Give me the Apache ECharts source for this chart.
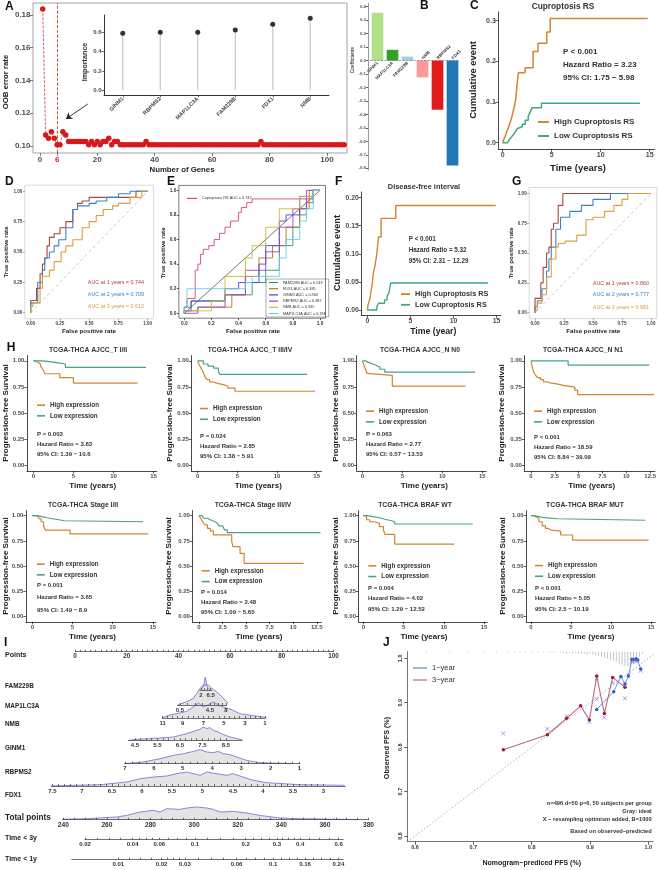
<!DOCTYPE html>
<html>
<head>
<meta charset="utf-8">
<title>Cuproptosis RS figure</title>
<script src="https://cdn.jsdelivr.net/npm/echarts@6.0.0/dist/echarts.min.js"></script>
<style>
html, body { margin: 0; padding: 0; background: #fff; }
#chart { width: 659px; height: 870px; }
</style>
</head>
<body>
<div id="chart"></div>
<script>
// ---------- A: OOB error by number of genes ----------
const oobErr = [
  0.1837, 0.1067, 0.1047, 0.1087, 0.1047, 0.1007, 0.1007, 0.1087, 0.1067, 0.1027,
  0.1027, 0.1027, 0.1027, 0.1027, 0.1027, 0.1027, 0.1007, 0.1027, 0.1007, 0.1027,
  0.1007, 0.1027, 0.1027, 0.1047, 0.1007, 0.1027, 0.1027, 0.1007, 0.1007, 0.1007,
  0.1007, 0.1007, 0.1007, 0.1007, 0.1007, 0.1007, 0.1027, 0.1007, 0.1007, 0.1007,
  0.1007, 0.1007, 0.1007, 0.1007, 0.1007, 0.1007, 0.1007, 0.1007, 0.1007, 0.1007,
  0.1007, 0.1007, 0.1007, 0.1007, 0.1007, 0.1007, 0.1007, 0.1007, 0.1007, 0.1007,
  0.1007, 0.1007, 0.1007, 0.1007, 0.1007, 0.1007, 0.1007, 0.1007, 0.1007, 0.1007,
  0.1007, 0.1007, 0.1007, 0.1007, 0.1007, 0.1007, 0.1027, 0.1007, 0.1007, 0.1007,
  0.1007, 0.1007, 0.1007, 0.1007, 0.1007, 0.1007, 0.1007, 0.1007, 0.1007, 0.1007,
  0.1007, 0.1007, 0.1007, 0.1007, 0.1007, 0.1007, 0.1007, 0.1007, 0.1007, 0.1007,
  0.1007, 0.1007, 0.1007, 0.1007, 0.1007, 0.1007
];
const oobTicks = [0, 6, 20, 40, 60, 80, 100];
const impGenes = ['GINM1', 'RBPMS2', 'MAP1LC3A', 'FAM229B', 'FDX1', 'NMB'];
const impVals = [0.59, 0.60, 0.60, 0.624, 0.684, 0.746];
const arrowFrom = [16.7, 0.1256];
const arrowTo = [9.07, 0.1165];

// ---------- B: coefficients ----------
const coefGenes = ['GINM1', 'MAP1LC3A', 'FAM229B', 'NMB', 'RBPMS2', 'FDX1'];
const coefVals = [0.355, 0.08, 0.03, -0.125, -0.365, -0.78];
const coefColors = ['#b2df8a', '#33a02c', '#a6cee3', '#fb9a99', '#e31a1c', '#1f78b4'];

// ---------- C / F: cumulative event ----------
const cHigh = [[0, 0], [0.1, 0.008], [0.25, 0.015], [0.4, 0.027], [0.55, 0.035], [0.7, 0.046], [0.9, 0.06],
  [1.05, 0.075], [1.2, 0.09], [1.35, 0.11], [1.45, 0.14], [1.6, 0.172], [2.28, 0.184], [3.1, 0.224],
  [3.6, 0.244], [4.5, 0.272], [4.85, 0.305], [14.8, 0.305]];
const cLow = [[0, 0], [0.5, 0.003], [0.7, 0.008], [0.9, 0.014], [1.1, 0.02], [1.3, 0.027], [1.5, 0.035],
  [1.7, 0.039], [2.0, 0.045], [2.3, 0.055], [2.6, 0.065], [2.8, 0.075], [3.0, 0.086], [3.95, 0.097], [14.0, 0.097]];
const cStats = ['P < 0.001', 'Hazard Ratio = 3.23', '95% CI: 1.75 \u2212 5.98'];
const fHigh = [[0, 0], [0.1, 0.01], [0.3, 0.02], [0.5, 0.04], [0.6, 0.05], [0.7, 0.065], [0.9, 0.08],
  [1.1, 0.1], [1.3, 0.13], [1.6, 0.163], [3.3, 0.186], [14.9, 0.186]];
const fLow = [[0, 0], [1.1, 0.006], [1.3, 0.012], [2.0, 0.018], [2.3, 0.025], [2.5, 0.03], [2.7, 0.048], [14.0, 0.048]];
const fStats = ['P < 0.001', 'Hazard Ratio = 5.32', '95% CI: 2.31 \u2212 12.29'];
const cufNames = ['High Cuproptosis RS', 'Low Cuproptosis RS'];

// ---------- D / G: time-dependent ROC ----------
const dRoc1 = [[0, 0], [0, 0.08], [0.05, 0.1], [0.08, 0.2], [0.1, 0.32], [0.12, 0.4], [0.14, 0.45], [0.16, 0.55],
  [0.2, 0.62], [0.25, 0.65], [0.3, 0.7], [0.36, 0.75], [0.4, 0.85], [0.44, 0.9], [0.5, 0.92], [0.55, 0.95], [0.9, 0.95], [0.95, 1], [1, 1]];
const dRoc2 = [[0, 0], [0, 0.05], [0.06, 0.08], [0.1, 0.25], [0.12, 0.35], [0.16, 0.45], [0.2, 0.5], [0.24, 0.55],
  [0.3, 0.6], [0.36, 0.7], [0.4, 0.85], [0.5, 0.88], [0.56, 0.9], [0.65, 0.92], [0.75, 0.95], [0.85, 0.98], [0.95, 1], [1, 1]];
const dRoc3 = [[0, 0], [0.02, 0.05], [0.08, 0.08], [0.1, 0.2], [0.16, 0.3], [0.2, 0.35], [0.26, 0.42], [0.3, 0.5],
  [0.36, 0.55], [0.44, 0.6], [0.5, 0.7], [0.56, 0.75], [0.62, 0.8], [0.7, 0.85], [0.75, 0.88], [0.85, 0.9], [0.95, 0.95], [1, 1]];
const dAuc = ['AUC at 1 years = 0.744', 'AUC at 2 years = 0.709', 'AUC at 3 years = 0.612'];
const gRoc1 = [[0, 0], [0, 0.12], [0.05, 0.12], [0.07, 0.25], [0.1, 0.38], [0.12, 0.5], [0.14, 0.55], [0.16, 0.7],
  [0.2, 0.75], [0.24, 0.9], [0.3, 1.0], [1, 1]];
const gRoc2 = [[0, 0], [0.02, 0.05], [0.06, 0.1], [0.1, 0.2], [0.12, 0.35], [0.14, 0.45], [0.18, 0.55], [0.22, 0.7],
  [0.3, 0.8], [0.4, 0.85], [0.5, 0.9], [0.65, 0.95], [0.72, 1.0], [1, 1]];
const gRoc3 = [[0, 0], [0.02, 0.02], [0.06, 0.08], [0.1, 0.15], [0.14, 0.3], [0.18, 0.45], [0.2, 0.55], [0.26, 0.58],
  [0.36, 0.6], [0.44, 0.65], [0.5, 0.78], [0.6, 0.8], [0.68, 0.85], [0.75, 0.9], [0.8, 0.95], [0.86, 1.0], [1, 1]];
const gAuc = ['AUC at 1 years = 0.860', 'AUC at 2 years = 0.777', 'AUC at 3 years = 0.681'];
const rocTicks = [0, 0.25, 0.5, 0.75, 1];

// ---------- E: ROC per gene ----------
const eNames = ['Cuproptosis RS AUC = 0.742', 'FAM229B AUC = 0.533', 'FDX1 AUC = 0.385', 'GINM1 AUC = 0.363',
  'RBPMS2 AUC = 0.387', 'NMB AUC = 0.335', 'MAP1LC3A AUC = 0.338'];
const eColors = ['#d24a6e', '#3a8f68', '#b77616', '#4b3fd8', '#9b3ed0', '#c9bb2e', '#5fd3e6'];
const eRS = [[0, 0], [0.02, 0.05], [0.02, 0.1], [0.08, 0.12], [0.08, 0.25], [0.1, 0.35], [0.12, 0.4], [0.14, 0.48],
  [0.18, 0.52], [0.22, 0.55], [0.26, 0.6], [0.3, 0.65], [0.34, 0.7], [0.4, 0.75], [0.42, 0.82], [0.46, 0.86],
  [0.5, 0.9], [0.54, 0.93], [0.95, 0.93], [1, 1]];
const eFAM = [[0, 0], [0.05, 0.05], [0.3, 0.1], [0.5, 0.15], [0.6, 0.25], [0.7, 0.35], [0.8, 0.55], [0.85, 0.7], [0.9, 0.8], [0.95, 0.9], [1, 1]];
const eFDX = [[0, 0], [0.1, 0.02], [0.35, 0.05], [0.45, 0.15], [0.55, 0.3], [0.65, 0.45], [0.75, 0.55], [0.85, 0.7], [0.92, 0.85], [1, 1]];
const eGIN = [[0, 0], [0.05, 0.02], [0.3, 0.1], [0.4, 0.2], [0.55, 0.25], [0.6, 0.4], [0.7, 0.55], [0.75, 0.75], [0.85, 0.8], [0.95, 0.95], [1, 1]];
const eRBP = [[0, 0], [0.1, 0], [0.3, 0.05], [0.45, 0.15], [0.6, 0.35], [0.7, 0.5], [0.8, 0.7], [0.9, 0.85], [1, 1]];
const eNMB = [[0, 0], [0.2, 0.02], [0.3, 0.1], [0.45, 0.3], [0.5, 0.45], [0.6, 0.55], [0.7, 0.7], [0.85, 0.85], [0.95, 0.95], [1, 1]];
const eMAP = [[0, 0], [0.02, 0.05], [0.2, 0.2], [0.45, 0.2], [0.5, 0.25], [0.7, 0.3], [0.75, 0.45], [0.85, 0.6], [0.9, 0.75], [0.95, 0.85], [1, 1]];
const eTicks = [0, 0.2, 0.4, 0.6, 0.8, 1];

// ---------- H: progression-free survival ----------
const hTitles = ['TCGA-THCA AJCC_T I/II', 'TCGA-THCA AJCC_T III/IV', 'TCGA-THCA AJCC_N N0', 'TCGA-THCA AJCC_N N1',
  'TCGA-THCA Stage I/II', 'TCGA-THCA Stage III/IV', 'TCGA-THCA BRAF WT', 'TCGA-THCA BRAF MUT'];
const hStats = [
  ['P = 0.003', 'Hazard Ratio = 3.83', '95% CI: 1.39 \u2212 10.6'],
  ['P = 0.024', 'Hazard Ratio = 2.85', '95% CI: 1.38 \u2212 5.91'],
  ['P = 0.063', 'Hazard Ratio = 2.77', '95% CI: 0.57 \u2212 13.53'],
  ['P < 0.001', 'Hazard Ratio = 18.59', '95% CI: 8.84 \u2212 39.09'],
  ['P = 0.001', 'Hazard Ratio = 3.65', '95% CI: 1.49 \u2212 8.9'],
  ['P = 0.014', 'Hazard Ratio = 2.48', '95% CI: 1.09 \u2212 5.65'],
  ['P = 0.004', 'Hazard Ratio = 4.02', '95% CI: 1.29 \u2212 12.52'],
  ['P < 0.001', 'Hazard Ratio = 5.05', '95% CI: 2.5 \u2212 10.19']
];
const hHigh = [
  [[0, 1], [0.3, 0.985], [0.6, 0.97], [0.9, 0.95], [1.1, 0.93], [1.3, 0.9], [1.45, 0.877], [3.3, 0.839], [5.0, 0.788], [13.0, 0.788]],
  [[0, 1], [0.1, 0.98], [0.2, 0.96], [0.35, 0.94], [0.5, 0.92], [0.65, 0.9], [0.8, 0.87], [1.0, 0.84], [1.2, 0.82], [1.5, 0.8],
    [1.9, 0.79], [2.3, 0.78], [2.8, 0.77], [3.3, 0.76], [3.8, 0.74], [4.7, 0.71], [14.8, 0.71]],
  [[0, 1], [0.2, 0.96], [0.4, 0.92], [0.6, 0.88], [0.75, 0.862], [3.75, 0.758], [12.9, 0.758]],
  [[0, 1], [0.1, 0.96], [0.2, 0.92], [0.3, 0.89], [0.5, 0.86], [0.7, 0.84], [1.0, 0.82], [1.3, 0.8], [1.7, 0.79], [2.0, 0.78],
    [2.7, 0.766], [3.4, 0.75], [4.6, 0.72], [4.9, 0.677], [12.9, 0.677]],
  [[0, 1], [0.4, 0.99], [0.8, 0.97], [1.1, 0.94], [1.4, 0.9], [1.6, 0.858], [4.7, 0.82], [14.45, 0.82]],
  [[0, 1], [0.2, 0.97], [0.4, 0.94], [0.6, 0.91], [0.9, 0.875], [1.2, 0.85], [1.52, 0.81], [3.47, 0.745], [3.6, 0.693],
    [4.36, 0.627], [4.79, 0.528], [11.1, 0.528]],
  [[0, 1], [0.4, 0.96], [0.8, 0.94], [1.4, 0.925], [2.0, 0.891], [2.5, 0.858], [2.7, 0.815], [3.9, 0.719], [11.3, 0.719]],
  [[0, 1], [0.3, 0.99], [0.6, 0.974], [1.0, 0.94], [1.4, 0.9], [1.8, 0.875], [2.1, 0.858], [2.5, 0.848], [3.7, 0.809], [5.2, 0.759], [14.7, 0.759]]
];
const hLow = [
  [[0, 1], [1.25, 0.985], [2.7, 0.97], [4.0, 0.938], [14.05, 0.938]],
  [[0, 1], [0.7, 0.97], [1.3, 0.95], [2.0, 0.93], [2.6, 0.9], [2.8, 0.87], [13.8, 0.87]],
  [[0, 1], [0.4, 0.985], [0.8, 0.97], [1.3, 0.955], [1.8, 0.94], [2.2, 0.92], [2.8, 0.893], [14.1, 0.893]],
  [[0, 1], [3.9, 0.96], [12.4, 0.96]],
  [[0, 1], [0.6, 0.99], [1.2, 0.98], [1.8, 0.97], [2.5, 0.96], [3.3, 0.95], [4.0, 0.94], [13.8, 0.94]],
  [[0, 1], [0.3, 0.985], [0.5, 0.975], [0.9, 0.96], [1.2, 0.947], [1.5, 0.93], [1.9, 0.915], [2.1, 0.9], [2.5, 0.885],
    [2.7, 0.86], [3.0, 0.832], [12.9, 0.832]],
  [[0, 1], [0.5, 0.99], [1.2, 0.98], [2.0, 0.965], [2.7, 0.95], [3.5, 0.94], [3.9, 0.918], [13.6, 0.918]],
  [[0, 1], [0.4, 0.99], [1.0, 0.98], [1.7, 0.97], [3.3, 0.955], [14.3, 0.955]]
];
const hNames = ['High expression', 'Low expression'];
const survTicks = [0, 0.25, 0.5, 0.75, 1];
const timeTicks15 = [0, 5, 10, 15];
const timeTicks12 = [0, 2.5, 5, 7.5, 10, 12.5];

// ---------- I: nomogram (positions on the points / total-points scales) ----------
const ptsLab = ['0', '20', '40', '60', '80', '100'];
const ptsPos = [0, 20, 40, 60, 80, 100];
const famLab = ['2', '6.5'];
const famPos = [48.74, 52.5];
const famDens = [[48.6, 0], [49.2, 1], [49.8, 4], [50.2, 10], [50.4, 13], [50.7, 9], [51.1, 3], [51.7, 1], [52.4, 0]];
const mapLab = ['0.5', '4.5', '8'];
const mapPos = [40.62, 52.22, 58.41];
const mapDens = [[39.7, 0], [40.0, 0.7], [43.2, 3.3], [45.8, 6.7], [47.1, 11.7], [48.4, 16.7], [49.6, 20], [50.3, 21.7],
  [51.6, 20], [52.9, 16.7], [54.2, 14.3], [55.4, 11.7], [56.8, 8.3], [58.7, 3.3], [60.0, 0]];
const nmbLab = ['11', '9', '7', '5', '3', '1'];
const nmbPos = [33.93, 41.66, 49.63, 57.64, 65.76, 73.5];
const nmbDens = [[33.5, 0], [34.2, 1.7], [36.7, 3], [40.6, 5], [43.2, 6.7], [45.8, 11], [47.7, 15], [49.6, 11], [51.6, 13.3],
  [53.5, 16], [56.1, 12.3], [58.7, 10], [61.2, 7.7], [63.8, 4.3], [69.0, 2.3], [72.8, 1], [74, 0]];
const ginLab = ['4.5', '5.5', '6.5', '7.5', '8.5'];
const ginPos = [23.21, 31.84, 40.62, 49.25, 58.41];
const ginDens = [[21, 0], [22.6, 0.7], [32.9, 2.3], [38.0, 3.3], [43.2, 6.7], [45.1, 8.3], [47.1, 10], [48.4, 11], [49.6, 13.3],
  [51.0, 11.7], [52.2, 12.7], [53.5, 10], [55.4, 8.3], [57.4, 5.7], [60.0, 3.3], [63.8, 1], [65, 0]];
const rbpLab = ['7', '6', '5', '4', '3', '2', '1'];
const rbpPos = [19.34, 30.56, 41.66, 53.11, 64.33, 75.71, 86.77];
const rbpDens = [[19.0, 0], [19.34, 0.7], [26.4, 1.7], [32.9, 5], [38.0, 8.3], [41.9, 10], [45.8, 12.3], [48.4, 14], [51.0, 11.7],
  [53.5, 11], [55.4, 12.3], [57.4, 10], [60.0, 9], [62.6, 6.7], [66.4, 3.3], [71.6, 1], [80.6, 0.3], [84, 0]];
const fdxLab = ['7.5', '7', '6.5', '6', '5.5', '5', '4.5', '4', '3.5', '3'];
const fdxPos = [-8.78, 2.71, 14.31, 25.92, 37.52, 49.32, 61.12, 72.73, 84.33, 96.13];
const fdxDens = [[-9.7, 0], [-9.67, 0.3], [9.67, 1.3], [20, 4], [25.2, 7.3], [30.3, 9], [35.5, 10], [39.3, 12.3], [43.2, 14],
  [45.8, 12.3], [48.4, 10.7], [51.0, 14], [54.8, 12.3], [58.7, 10.7], [61.2, 12.3], [63.8, 10], [69.0, 5.7], [74.2, 3.3],
  [87.0, 1.3], [103.8, 0.7], [104.4, 0]];
const totLab = ['240', '260', '280', '300', '320', '340', '360', '380'];
const totPos = [240, 260, 280, 300, 320, 340, 360, 380];
const totDens = [[233.0, 0], [233.9, 0.3], [250.7, 1], [264.5, 2.7], [269.1, 4.3], [275.2, 7.7], [281.3, 9.3], [284.4, 7.7],
  [287.4, 11], [293.5, 10.3], [296.6, 11.7], [301.2, 12.7], [305.8, 11.7], [308.8, 10.3], [311.9, 7.7], [318, 8.3],
  [324.1, 6.7], [330.2, 4.3], [339.4, 1.7], [348.6, 1], [369.2, 0.3], [375, 0]];
const t3Lab = ['0.02', '0.04', '0.06', '0.1', '0.2', '0.3', '0.4', '0.6'];
const t3Pos = [250, 271.8, 284, 300.4, 323.6, 338, 348.6, 366.3];
const t1Lab = ['0.01', '0.02', '0.03', '0.06', '0.1', '0.16', '0.24'];
const t1Pos = [265.2, 285.1, 295.8, 319.5, 336.3, 350.9, 366.2];

// ---------- J: calibration ----------
const j1Pred = [0.9116, 0.9407, 0.953, 0.960, 0.966, 0.972, 0.976, 0.979, 0.982, 0.987];
const j1Obs = [0.885, 0.925, 0.959, 0.942, 0.960, 0.998, 0.997, 0.999, 0.996, 0.976];
const j3Pred = [0.7515, 0.827, 0.860, 0.884, 0.899, 0.9116, 0.9247, 0.939, 0.960];
const j3Obs = [0.794, 0.828, 0.865, 0.893, 0.861, 0.960, 0.876, 0.957, 0.935];
const jxPred = [0.7515, 0.827, 0.860, 0.899, 0.9116, 0.9116, 0.9247, 0.939, 0.960, 0.960, 0.966, 0.972, 0.976, 0.979, 0.987];
const jxObs = [0.831, 0.841, 0.870, 0.857, 0.908, 0.955, 0.867, 0.945, 0.910, 0.938, 0.962, 0.992, 0.995, 0.993, 0.972];
const rugX = [0.62, 0.66, 0.69, 0.72, 0.74, 0.76, 0.77, 0.78, 0.79, 0.80, 0.81, 0.82, 0.83, 0.835, 0.84, 0.85, 0.855, 0.86,
  0.865, 0.87, 0.875, 0.88, 0.885, 0.89, 0.895, 0.90, 0.905, 0.91, 0.915, 0.92, 0.925, 0.93, 0.935, 0.94, 0.945, 0.95,
  0.955, 0.96, 0.965, 0.97, 0.975, 0.98, 0.985, 0.99];
const rugH = [1, 1, 1, 1, 1, 1, 1, 1, 1, 1, 1, 1, 1, 1, 1, 1, 1, 2, 1, 2, 1, 2, 2, 2, 3, 2, 3, 4, 4, 5, 6, 7, 8, 9, 10, 12,
  13, 14, 15, 14, 12, 8, 5, 2];
const jTicks = [0.6, 0.7, 0.8, 0.9, 1.0];
const jNotes = ['n=496 d=50 p=6, 50 subjects per group', 'Gray: ideal', 'X \u2212 resampling optimism added, B=1000', 'Based on observed\u2212predicted'];

// ================= build =================
const FONT = 'Liberation Sans';
const ORANGE = '#d0862f', GREEN = '#43a582';
const ROC_COL = ['#a8473c', '#3b84c4', '#d9a03e'];
const grids = [], xAxes = [], yAxes = [], series = [], legends = [], graphics = [];

function grid(l, t, w, h, extra) {
  grids.push(Object.assign({ left: l, top: t, width: w, height: h }, extra || {}));
  return grids.length - 1;
}

function axis(list, gi, o) {
  const a = {
    type: o.type || 'value', gridIndex: gi, min: o.min, max: o.max, inverse: !!o.inverse,
    offset: o.offset || 0, data: o.data, boundaryGap: o.type === 'category' ? true : undefined, z: o.z || 0,
    axisLine: { show: o.line !== false, onZero: false, lineStyle: { color: o.lineColor || '#1a1a1a', width: o.lw || 0.8 } },
    axisTick: { show: o.tick !== false, inside: !!o.tickIn, length: o.tickLen || 2.5, alignWithLabel: true,
      lineStyle: { color: o.tickColor || '#1a1a1a', width: 0.7 } },
    axisLabel: { show: o.labels !== false, fontSize: o.fs || 6, fontWeight: o.fw || 'bold', color: o.lc || '#4d4d4d',
      fontFamily: FONT, margin: o.margin == null ? 2.5 : o.margin, rotate: o.rotate || 0, formatter: o.fmt, rich: o.rich },
    splitLine: { show: false }
  };
  if (o.type === 'category') a.axisLabel.interval = 0;
  if (o.labelsAt) a.axisLabel.customValues = o.labelsAt;
  if (o.ticksAt || o.labelsAt) a.axisTick.customValues = o.ticksAt || o.labelsAt;
  list.push(a);
  return list.length - 1;
}

function line(xi, yi, data, color, o) {
  o = o || {};
  series.push(Object.assign({
    type: 'line', name: o.name, xAxisIndex: xi, yAxisIndex: yi, data: data, color: color,
    symbol: 'none', step: o.step || false, silent: true, clip: o.clip !== false, z: o.z || 3,
    lineStyle: { color: color, width: o.width || 1.2, type: o.dash || 'solid' },
    itemStyle: { color: color }
  }, o.extra || {}));
}

function txt(x, y, s, size, o) {
  o = o || {};
  graphics.push({
    type: 'text', x: x, y: y, rotation: o.rot || 0, silent: true, z: 50,
    style: { text: s, fill: o.color || '#1a1a1a', font: (o.fw || 'bold') + ' ' + size + 'px "' + FONT + '"',
      align: o.align || 'left', verticalAlign: 'middle', textAlign: o.align || 'left', textVerticalAlign: 'middle' }
  });
}

function legend(left, top, names, o) {
  legends.push({
    left: left, top: top, orient: 'vertical', padding: o.pad || 0, itemGap: o.gap, itemWidth: o.w, itemHeight: o.h || 1.6,
    icon: 'rect', selectedMode: false, data: names, borderColor: o.border || 'transparent', borderWidth: o.border ? 0.5 : 0,
    textStyle: { fontSize: o.fs, fontWeight: o.fw || 'bold', color: '#333', fontFamily: FONT }
  });
}

const fix = n => v => v.toFixed(n);
const V = Math.PI / 2;

// ----- A -----
let g = grid(33, 3, 314, 150, { show: true, borderColor: '#8a8a8a', borderWidth: 0.8 });
let xi = axis(xAxes, g, { min: -2.4, max: 107, line: false, labelsAt: oobTicks, fs: 8, tickLen: 3, tickColor: '#444',
  fmt: v => (v === 6 ? '{r|6}' : String(v)), rich: { r: { color: '#d7191c', fontSize: 8, fontWeight: 'bold', fontFamily: FONT } } });
let yi = axis(yAxes, g, { min: 0.0957, max: 0.1873, line: false, labelsAt: [0.10, 0.12, 0.14, 0.16, 0.18], fmt: fix(2), fs: 8, tickLen: 3, tickColor: '#444' });
series.push({
  type: 'line', xAxisIndex: xi, yAxisIndex: yi, data: oobErr.map((v, i) => [i + 1, v]), symbol: 'circle', symbolSize: 5.5,
  showAllSymbol: true, silent: true, color: '#d7191c', z: 3,
  lineStyle: { color: '#d7191c', width: 0.7, type: 'dashed' }, itemStyle: { color: '#d7191c' },
  markLine: { silent: true, symbol: 'none', label: { show: false }, lineStyle: { color: '#d7191c', type: 'dashed', width: 0.8 }, data: [{ xAxis: 6 }] }
});
series.push({
  type: 'line', xAxisIndex: xi, yAxisIndex: yi, data: [], silent: true,
  markLine: { silent: true, symbol: ['none', 'arrow'], symbolSize: 6, label: { show: false },
    lineStyle: { color: '#222', type: 'solid', width: 0.9 }, data: [[{ coord: arrowFrom }, { coord: arrowTo }]] }
});
txt(182, 169.5, 'Number of Genes', 7.8, { align: 'center', color: '#222' });
txt(6, 82, 'OOB error rate', 7.8, { align: 'center', rot: V, color: '#222' });

// inset lollipop
g = grid(104, 15, 225, 80);
xi = axis(xAxes, g, { type: 'category', data: impGenes, lineColor: '#333', lw: 1, fs: 5.5, rotate: 45, lc: '#444', tickLen: 2.5, tickColor: '#333', margin: 3 });
yi = axis(yAxes, g, { min: -0.05, max: 0.78, labelsAt: [0, 0.2, 0.4, 0.6], fmt: fix(1), fs: 6, lw: 1, lineColor: '#333', tickColor: '#333' });
series.push({ type: 'bar', xAxisIndex: xi, yAxisIndex: yi, data: impVals, barWidth: 1.2, silent: true, itemStyle: { color: '#c8c8c8' } });
series.push({ type: 'scatter', xAxisIndex: xi, yAxisIndex: yi, data: impVals, symbolSize: 5, silent: true, itemStyle: { color: '#000' }, z: 4 });
txt(85, 62, 'Importance', 7.2, { align: 'center', rot: V, color: '#333' });

// ----- B -----
g = grid(370, 3, 90, 167);
xi = axis(xAxes, g, { type: 'category', data: coefGenes, line: false, tick: false, labels: false });
yi = axis(yAxes, g, { min: -0.8125, max: 0.4275, offset: 2, labelsAt: [-0.8, -0.7, -0.6, -0.5, -0.4, -0.3, -0.2, -0.1, 0, 0.1, 0.2, 0.3, 0.4],
  fmt: fix(1), fs: 4.3, lc: '#555', tickLen: 2, lineColor: '#555', lw: 0.6, margin: 2 });
series.push({
  type: 'bar', xAxisIndex: xi, yAxisIndex: yi, barCategoryGap: '22%', silent: true,
  data: coefVals.map((v, i) => ({ value: v, itemStyle: { color: coefColors[i] },
    label: { position: v >= 0 ? 'bottom' : 'top', align: v >= 0 ? 'right' : 'left' } })),
  label: { show: true, formatter: '{b}', rotate: 45, fontSize: 4.3, fontWeight: 'bold', color: '#333', fontFamily: FONT, distance: 2, verticalAlign: 'middle' },
  markLine: { silent: true, symbol: 'none', label: { show: false }, lineStyle: { color: '#666', type: 'dashed', width: 0.6 }, data: [{ yAxis: 0 }] }
});
txt(353, 60, 'Coefficients', 4.6, { align: 'center', rot: V, color: '#444' });

// ----- C -----
g = grid(498.3, 11.9, 156.3, 137);
xi = axis(xAxes, g, { min: -0.45, max: 15.5, labelsAt: timeTicks15, fs: 7, tickLen: 3 });
yi = axis(yAxes, g, { min: -0.0153, max: 0.3213, labelsAt: [0, 0.1, 0.2, 0.3], fmt: fix(1), fs: 7, tickLen: 3 });
line(xi, yi, cHigh, ORANGE, { step: 'end', width: 1.5, name: cufNames[0] });
line(xi, yi, cLow, GREEN, { step: 'end', width: 1.5, name: cufNames[1] });
legend(538, 118, cufNames, { w: 11, h: 2, gap: 6, fs: 8 });
cStats.forEach((s, i) => txt(563, 52 + i * 13, s, 8, { color: '#333' }));
txt(563, 7, 'Cuproptosis RS', 8.3, { align: 'center', color: '#333' });
txt(578, 168, 'Time (years)', 9.5, { align: 'center', color: '#222' });
txt(473, 80, 'Cumulative event', 9.4, { align: 'center', rot: V, color: '#222' });

// ----- D -----
function rocPanel(left, top, w, h, curves, aucs, aucX, aucY) {
  const gg = grid(left, top, w, h, { show: true, borderColor: '#cfcfcf', borderWidth: 0.8 });
  const x = axis(xAxes, gg, { min: -0.05, max: 1.05, line: false, labelsAt: rocTicks, fmt: fix(2), fs: 4.6, lc: '#444', tickLen: 2, tickColor: '#888' });
  const y = axis(yAxes, gg, { min: -0.05, max: 1.05, line: false, labelsAt: rocTicks, fmt: fix(2), fs: 4.6, lc: '#444', tickLen: 2, tickColor: '#888' });
  line(x, y, [[0, 0], [1, 1]], '#b8b8b8', { width: 0.8, dash: [3, 3], z: 2 });
  curves.forEach((c, i) => line(x, y, c, ROC_COL[i], { step: 'start', width: 1.1 }));
  aucs.forEach((s, i) => txt(aucX, aucY[i], s, 5.4, { align: 'right', fw: 'normal', color: ROC_COL[i] }));
}
rocPanel(24.85, 185.2, 128.7, 133.5, [dRoc1, dRoc2, dRoc3], dAuc, 144, [282.7, 294.7, 307]);
txt(6, 252, 'True positive rate', 6.2, { align: 'center', rot: V, color: '#222' });
txt(89, 331.7, 'False positive rate', 6.2, { align: 'center', color: '#222' });

// ----- E -----
g = grid(178.87, 185.4, 146.6, 132.8, { show: true, borderColor: '#222', borderWidth: 0.6 });
xi = axis(xAxes, g, { min: -0.04, max: 1.04, line: false, labelsAt: eTicks, fmt: fix(1), fs: 4.8, lc: '#333', tickLen: 2 });
yi = axis(yAxes, g, { min: -0.04, max: 1.04, line: false, labelsAt: eTicks, fmt: fix(1), fs: 4.8, lc: '#333', tickLen: 2 });
line(xi, yi, [[0, 0], [1, 1]], '#555', { width: 0.8, z: 2 });
[eRS, eFAM, eFDX, eGIN, eRBP, eNMB, eMAP].forEach((c, i) => line(xi, yi, c, eColors[i], { step: 'start', width: 0.9, name: eNames[i] }));
legend(187, 196.4, [eNames[0]], { w: 10, h: 1.2, gap: 2, fs: 3.8, fw: 'normal' });
legend(266, 279, eNames.slice(1), { w: 9, h: 1.2, gap: 2.2, fs: 3.8, fw: 'normal', border: '#555', pad: [1.5, 3, 1.5, 3] });
txt(163, 253, 'True positive rate', 6.2, { align: 'center', rot: V, color: '#222' });
txt(253, 331.7, 'False positive rate', 6.2, { align: 'center', color: '#222' });

// ----- F -----
g = grid(361.3, 192, 139.6, 123.6);
xi = axis(xAxes, g, { min: -0.7, max: 15.5, labelsAt: timeTicks15, fs: 6.8, tickLen: 3 });
yi = axis(yAxes, g, { min: -0.01, max: 0.21, labelsAt: [0, 0.05, 0.1, 0.15, 0.2], fmt: fix(2), fs: 6.8, tickLen: 3 });
line(xi, yi, fHigh, ORANGE, { step: 'end', width: 1.4 });
line(xi, yi, fLow, GREEN, { step: 'end', width: 1.4 });
legend(401, 290.6, cufNames, { w: 9, h: 1.8, gap: 3.7, fs: 7.3 });
fStats.forEach((s, i) => txt(408.7, 239.3 + i * 11.2, s, 6.3, { color: '#333' }));
txt(424, 187.3, 'Disease-free interval', 7.4, { align: 'center', color: '#333' });
txt(433.3, 331.7, 'Time (year)', 8.7, { align: 'center', color: '#222' });
txt(337, 253, 'Cumulative event', 9.2, { align: 'center', rot: V, color: '#222' });

// ----- G -----
rocPanel(529.2, 187.5, 127.6, 131.1, [gRoc1, gRoc2, gRoc3], gAuc, 649, [283.3, 295, 308]);
txt(511.5, 253, 'True positive rate', 6.2, { align: 'center', rot: V, color: '#222' });
txt(593.3, 331.7, 'False positive rate', 6.2, { align: 'center', color: '#222' });

// ----- H -----
const hRows = [{ top: 355.6, h: 115.3, titleY: 350, timeY: 486, ytY: 413 }, { top: 510.65, h: 111.1, titleY: 505, timeY: 636.7, ytY: 566 }];
const hLayout = [
  { x0: 33.3, ppu: 8.02, min: -0.8, max: 15.4, row: 0, t12: false, tx: 88, lx: 37, ly: 405.3, sx: 37, sy: [434.3, 444.3, 454.3], ax: 92.7, yx: 6 },
  { x0: 197.7, ppu: 7.93, min: -0.8, max: 15.6, row: 0, t12: false, tx: 250, lx: 200, ly: 408.7, sx: 200, sy: [436, 446, 456], ax: 258.3, yx: 170 },
  { x0: 362.3, ppu: 8.0, min: -0.7, max: 15.5, row: 0, t12: false, tx: 420, lx: 366, ly: 411.3, sx: 366, sy: [434.7, 444.7, 454.7], ax: 424.3, yx: 335.5 },
  { x0: 531, ppu: 9.656, min: -0.69, max: 13, row: 0, t12: true, tx: 583, lx: 534, ly: 411.3, sx: 534, sy: [437, 447, 457], ax: 591.7, yx: 501.5 },
  { x0: 32.3, ppu: 8.03, min: -0.8, max: 15.4, row: 1, t12: false, tx: 83, lx: 36.7, ly: 564.3, sx: 37, sy: [585, 597.7, 610], ax: 92.5, yx: 6 },
  { x0: 199, ppu: 9.42, min: -0.7, max: 13, row: 1, t12: true, tx: 253, lx: 201.7, ly: 571, sx: 201, sy: [592.3, 602.3, 612.3], ax: 259, yx: 169 },
  { x0: 363.3, ppu: 8.05, min: -0.6, max: 15.4, row: 1, t12: false, tx: 415, lx: 368.3, ly: 566, sx: 368, sy: [588.3, 598.3, 609], ax: 424, yx: 335.5 },
  { x0: 531, ppu: 8.0, min: -0.6, max: 15.5, row: 1, t12: false, tx: 585, lx: 535, ly: 565.7, sx: 535, sy: [588.3, 598.3, 609], ax: 591, yx: 503 }
];
hLayout.forEach((L, k) => {
  const R = hRows[L.row];
  const gk = grid(L.x0 + L.min * L.ppu, R.top, (L.max - L.min) * L.ppu, R.h);
  const x = axis(xAxes, gk, { min: L.min, max: L.max, labelsAt: L.t12 ? timeTicks12 : timeTicks15, fs: 6, tickLen: 2.5 });
  const y = axis(yAxes, gk, { min: -0.05, max: 1.05, labelsAt: survTicks, fmt: fix(2), fs: 6, tickLen: 2.5 });
  line(x, y, hHigh[k], ORANGE, { step: 'end', width: 1.2, name: hNames[0] });
  line(x, y, hLow[k], GREEN, { step: 'end', width: 1.2, name: hNames[1] });
  legend(L.lx, L.ly - 3.15, hNames, { w: 8, h: 1.6, gap: 4.7, fs: 6.3 });
  hStats[k].forEach((s, i) => txt(L.sx, L.sy[i], s, 6, { color: '#333' }));
  txt(L.tx, R.titleY, hTitles[k], 6.8, { align: 'center', color: '#333' });
  txt(L.ax, R.timeY, 'Time (years)', 8, { align: 'center', color: '#222' });
  txt(L.yx, R.ytY, 'Progression-free Survival', 8, { align: 'center', rot: V, color: '#222' });
});

// ----- I: nomogram -----
const P0 = 75, PPU = 2.585;        // points scale
const T0 = 63.3, TPU = 2.18;       // total points scale
function subTicks(pos, n) {
  const t = [];
  for (let i = 0; i < pos.length - 1; i++) for (let j = 0; j < n; j++) t.push(pos[i] + (pos[i + 1] - pos[i]) * j / n);
  t.push(pos[pos.length - 1]);
  return t;
}
const nomoRows = [
  { name: 'Points', ny: 655, nfs: 7, y: 651.7, sc: 'P', min: 0, max: 100, lab: ptsLab, pos: ptsPos, sub: 10, h: 1, fs: 6.3 },
  { name: 'FAM229B', ny: 686, nfs: 6.4, y: 690, sc: 'P', min: 48.36, max: 52.88, lab: famLab, pos: famPos, sub: 3, h: 14, dens: famDens },
  { name: 'MAP1LC3A', ny: 706, nfs: 6.4, y: 705, sc: 'P', min: 39.73, max: 58.68, lab: mapLab, pos: mapPos, sub: 4, h: 22, dens: mapDens },
  { name: 'NMB', ny: 724, nfs: 6.4, y: 718, sc: 'P', min: 33.9, max: 73.5, lab: nmbLab, pos: nmbPos, sub: 4, h: 17, dens: nmbDens },
  { name: 'GINM1', ny: 748, nfs: 6.4, y: 740.3, sc: 'P', min: 20.62, max: 64.49, lab: ginLab, pos: ginPos, sub: 4, h: 14, dens: ginDens },
  { name: 'RBPMS2', ny: 772, nfs: 6.4, y: 763.7, sc: 'P', min: 19.3, max: 87.04, lab: rbpLab, pos: rbpPos, sub: 4, h: 15, dens: rbpDens },
  { name: 'FDX1', ny: 795.3, nfs: 6.4, y: 786, sc: 'P', min: -9.01, max: 104.45, lab: fdxLab, pos: fdxPos, sub: 5, h: 15, dens: fdxDens },
  { name: 'Total points', ny: 818, nfs: 8.2, y: 819.7, sc: 'T', min: 240, max: 380, lab: totLab, pos: totPos, sub: 4, h: 13, dens: totDens, fs: 6.6 },
  { name: 'Time < 3y', ny: 838, nfs: 7, y: 839.7, sc: 'T', min: 249.9, max: 368.4, lab: t3Lab, pos: t3Pos, sub: 4, h: 1 },
  { name: 'Time < 1y', ny: 858.7, nfs: 7, y: 859.7, sc: 'T', min: 243.9, max: 368.4, lab: t1Lab, pos: t1Pos, sub: 4, h: 1 }
];
nomoRows.forEach(r => {
  const o = r.sc === 'P' ? P0 : T0, ppu = r.sc === 'P' ? PPU : TPU, base = r.sc === 'P' ? 0 : 240;
  const left = o + (r.min - base) * ppu, width = (r.max - r.min) * ppu;
  const gr = grid(left, r.y - r.h, width, r.h);
  const labOf = v => { let bi = 0; r.pos.forEach((p, i) => { if (Math.abs(p - v) < Math.abs(r.pos[bi] - v)) bi = i; }); return r.lab[bi]; };
  const x = axis(xAxes, gr, { min: r.min, max: r.max, labelsAt: r.pos, ticksAt: subTicks(r.pos, r.sub), fmt: labOf, z: 10,
    fs: r.fs || 6, lc: '#333', tickIn: true, tickLen: 2, lw: 0.7, lineColor: '#333', tickColor: '#333', margin: 2 });
  const y = axis(yAxes, gr, { min: 0, max: r.h, line: false, tick: false, labels: false });
  if (r.dens) line(x, y, r.dens, '#6b6bd6', { width: 0.8, clip: false, z: 1, extra: { areaStyle: { color: '#e4e4e4', opacity: 1 } } });
  txt(5, r.ny, r.name, r.nfs, { color: '#222' });
});

// ----- J: calibration -----
g = grid(407.3, 651.7, 246, 190);
xi = axis(xAxes, g, { min: 0.5868, max: 1.0086, labelsAt: jTicks, fmt: fix(1), fs: 5.5, lc: '#333', tickLen: 3, lw: 0.6 });
yi = axis(yAxes, g, { min: 0.5872, max: 1.0149, labelsAt: jTicks, fmt: fix(1), fs: 5.5, lc: '#333', tickLen: 3, lw: 0.6, rotate: 90, margin: 4 });
line(xi, yi, [[0.5868, 0.5868], [1.0086, 1.0086]], '#9a9a9a', { width: 0.8, dash: [1.5, 2], z: 2 });
series.push({
  type: 'scatter', xAxisIndex: xi, yAxisIndex: yi, silent: true, symbol: 'rect', z: 2,
  itemStyle: { color: '#8c8c8c' },
  data: rugX.map((x, i) => ({ value: [x, 1.0149], symbolSize: [0.6, rugH[i]], symbolOffset: [0, rugH[i] / 2] }))
});
series.push({ type: 'line', name: '1\u2212year', xAxisIndex: xi, yAxisIndex: yi, data: j1Pred.map((v, i) => [v, j1Obs[i]]), silent: true,
  symbol: 'circle', symbolSize: 3.5, color: '#5b8bd0', lineStyle: { color: '#6a95d8', width: 1 }, itemStyle: { color: '#2f62c0' }, z: 4 });
series.push({ type: 'line', name: '3\u2212year', xAxisIndex: xi, yAxisIndex: yi, data: j3Pred.map((v, i) => [v, j3Obs[i]]), silent: true,
  symbol: 'circle', symbolSize: 3.5, color: '#b86a80', lineStyle: { color: '#b86a80', width: 1.1 }, itemStyle: { color: '#9e1b32' }, z: 4 });
series.push({ type: 'scatter', xAxisIndex: xi, yAxisIndex: yi, data: jxPred.map((v, i) => [v, jxObs[i]]), silent: true,
  symbol: 'path://M0 0L10 10M10 0L0 10', symbolSize: 4, itemStyle: { color: 'transparent', borderColor: '#6b6bdd', borderWidth: 0.8 }, z: 5 });
legends.push({
  left: 413, top: 664, orient: 'vertical', padding: 0, itemGap: 4, itemWidth: 14, itemHeight: 1.2, icon: 'rect', selectedMode: false,
  data: [{ name: '1\u2212year', itemStyle: { color: '#5b8bd0' } }, { name: '3\u2212year', itemStyle: { color: '#b86a80' } }],
  textStyle: { fontSize: 7.5, color: '#333', fontFamily: FONT }
});
[803.3, 811, 819, 831].forEach((yy, i) => txt(651.7, yy, jNotes[i], 5.7, { align: 'right', color: '#333' }));
txt(531.7, 863.3, 'Nomogram\u2212prediced PFS (%)', 7, { align: 'center', color: '#222' });
txt(386.7, 748, 'Observed PFS (%)', 7.2, { align: 'center', rot: V, color: '#222' });

// ----- panel letters -----
[['A', 5, 7], ['B', 420, 6], ['C', 470, 6], ['D', 5, 182], ['E', 167, 182], ['F', 335, 182], ['G', 512, 182],
 ['H', 6.7, 348], ['I', 4, 643], ['J', 383, 643]].forEach(p => txt(p[1], p[2], p[0], 12, { color: '#111' }));

const chart = echarts.init(document.getElementById('chart'), null, { renderer: 'canvas' });
chart.setOption({
  animation: false,
  backgroundColor: '#fff',
  textStyle: { fontFamily: FONT },
  grid: grids,
  xAxis: xAxes,
  yAxis: yAxes,
  legend: legends,
  series: series,
  graphic: { elements: graphics }
});
</script>
</body>
</html>
